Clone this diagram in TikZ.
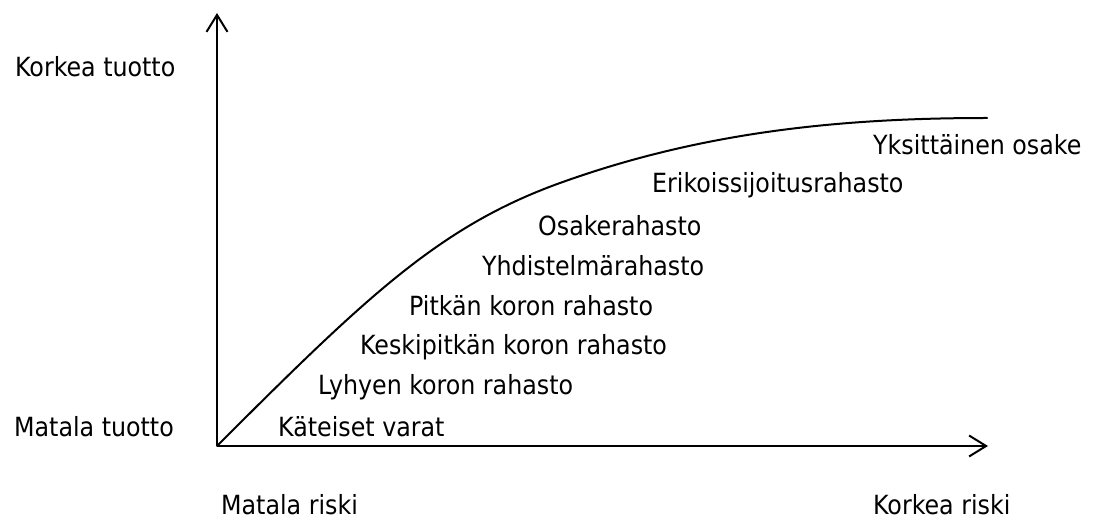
\documentclass[tikz,border=0pt]{standalone}
\usepackage{fontspec}
\setmainfont{DejaVu Sans Condensed}
\usetikzlibrary{arrows.meta}
\tikzset{
  axis/.style={line width=2pt, -{Straight Barb[length=17pt,width=21pt,line width=2pt]}},
  curveline/.style={line width=2pt, line cap=round},
  lbl/.style={anchor=base west, inner sep=0pt, font=\fontsize{26.4}{30}\selectfont}
}
\begin{document}
\begin{tikzpicture}[x=1pt,y=-1pt]
\useasboundingbox (0,0) rectangle (1096,521);
\coordinate (O) at (217,446);
\coordinate (ytop) at (217,13);
\coordinate (xend) at (988,446);
\coordinate (mid) at (560,183);
\coordinate (cend) at (987,118);
\draw[axis] (O) -- (ytop);
\draw[axis] (O) -- (xend);
\draw[curveline] (O) .. controls (367,296) and (440,226.2) .. (mid)
  .. controls (700,132.6) and (837,118) .. (cend);
\node[lbl] (hi) at (15,77) {Korkea tuotto};
\node[lbl] (lo) at (14,436) {Matala tuotto};
\node[lbl] (lr) at (221,514) {Matala riski};
\node[lbl] (hr) at (873,514) {Korkea riski};
\node[lbl] (k1) at (278,436) {Käteiset varat};
\node[lbl] (k2) at (318,395) {Lyhyen koron rahasto};
\node[lbl] (k3) at (360,355) {Keskipitkän koron rahasto};
\node[lbl] (k4) at (409,315.5) {Pitkän koron rahasto};
\node[lbl] (k5) at (482,276) {Yhdistelmärahasto};
\node[lbl] (k6) at (538,236) {Osakerahasto};
\node[lbl] (k7) at (652,193) {Erikoissijoitusrahasto};
\node[lbl] (k8) at (873,155) {Yksittäinen osake};
\end{tikzpicture}
\end{document}
